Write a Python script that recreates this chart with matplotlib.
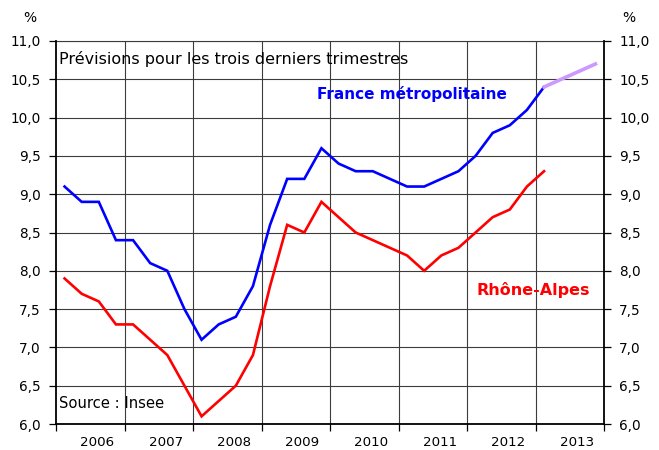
import matplotlib
matplotlib.use("Agg")
import matplotlib.pyplot as plt
from matplotlib.ticker import FixedLocator, FuncFormatter

plt.rcParams['font.family'] = ['DejaVu Sans']

# ---- data (quarterly unemployment rate, %) ----
year_labels = ["2006", "2007", "2008", "2009", "2010", "2011", "2012", "2013"]
france = [9.1, 8.9, 8.9, 8.4,
          8.4, 8.1, 8.0, 7.5,
          7.1, 7.3, 7.4, 7.8,
          8.6, 9.2, 9.2, 9.6,
          9.4, 9.3, 9.3, 9.2,
          9.1, 9.1, 9.2, 9.3,
          9.5, 9.8, 9.9, 10.1,
          10.4]
rhone_alpes = [7.9, 7.7, 7.6, 7.3,
               7.3, 7.1, 6.9, 6.5,
               6.1, 6.3, 6.5, 6.9,
               7.8, 8.6, 8.5, 8.9,
               8.7, 8.5, 8.4, 8.3,
               8.2, 8.0, 8.2, 8.3,
               8.5, 8.7, 8.8, 9.1,
               9.3]
forecast = [10.4, 10.5, 10.6, 10.7]   # France, 2013 Q1..Q4
y_ticks = [6.0, 6.5, 7.0, 7.5, 8.0, 8.5, 9.0, 9.5, 10.0, 10.5, 11.0]

first_year = int(year_labels[0])
def qx(i):
    return first_year + (i + 0.5) / 4.0

W, H = 659, 450
fig = plt.figure(figsize=(W / 100, H / 100), dpi=100)
ax = fig.add_axes([56 / W, 1 - 424 / H, (604 - 56) / W, (424 - 41) / H])

grid_c = '#3c3c3c'
# grid
for yv in y_ticks:
    ax.axhline(yv, color=grid_c, lw=0.8, zorder=1)
for k in range(1, len(year_labels)):
    ax.axvline(first_year + k, color=grid_c, lw=0.8, zorder=1)

ax.plot([qx(i) for i in range(len(france))], france, color='#0000FF', lw=1.9, zorder=3,
        solid_joinstyle='miter')
ax.plot([qx(i) for i in range(len(rhone_alpes))], rhone_alpes, color='#FF0000', lw=1.9, zorder=3,
        solid_joinstyle='miter')
start = len(france) - 1
ax.plot([qx(start + i) for i in range(len(forecast))], forecast, color='#CC99FF', lw=2.6, zorder=3)

ax.set_xlim(first_year, first_year + len(year_labels))
ax.set_ylim(6.0, 11.0)

fmt = FuncFormatter(lambda v, p: f"{v:.1f}".replace('.', ','))
ax.yaxis.set_major_locator(FixedLocator(y_ticks))
ax.yaxis.set_major_formatter(fmt)
ax.tick_params(axis='y', which='major', direction='out', length=5, width=0.9,
               labelsize=9.8, pad=6, left=True, right=True, labelleft=True, labelright=True,
               color='black')

ax.xaxis.set_major_locator(FixedLocator([first_year + k for k in range(len(year_labels) + 1)]))
ax.xaxis.set_major_formatter(FuncFormatter(lambda v, p: ''))
ax.xaxis.set_minor_locator(FixedLocator([first_year + k + 0.6 for k in range(len(year_labels))]))
ax.xaxis.set_minor_formatter(FuncFormatter(lambda v, p: year_labels[int(round(v - 0.6)) - first_year]
                                           if 0 <= int(round(v - 0.6)) - first_year < len(year_labels) else ''))
ax.tick_params(axis='x', which='major', direction='out', length=5, width=0.9, color='black')
ax.tick_params(axis='x', which='minor', length=0, labelsize=9.6, pad=9)

for s in ['left', 'right', 'bottom']:
    ax.spines[s].set_linewidth(1.3)
    ax.spines[s].set_color('black')
    ax.spines[s].set_zorder(4)
ax.spines['top'].set_linewidth(0.8)
ax.spines['top'].set_color(grid_c)

def px(x, y):
    return x / W, 1 - y / H

fig.text(*px(23, 18), '%', fontsize=10, va='center', ha='left')
fig.text(*px(622, 18), '%', fontsize=10, va='center', ha='left')
fig.text(*px(59, 59), 'Prévisions pour les trois derniers trimestres', fontsize=11.5,
         va='center', ha='left')
fig.text(*px(317, 94), 'France métropolitaine', fontsize=11, fontweight='bold',
         color='#0000FF', va='center', ha='left')
fig.text(*px(477, 290), 'Rhône-Alpes', fontsize=11.5, fontweight='bold',
         color='#FF0000', va='center', ha='left')
fig.text(*px(59, 403), 'Source : Insee', fontsize=10.6, va='center', ha='left')

fig.savefig('out.png', dpi=100)
